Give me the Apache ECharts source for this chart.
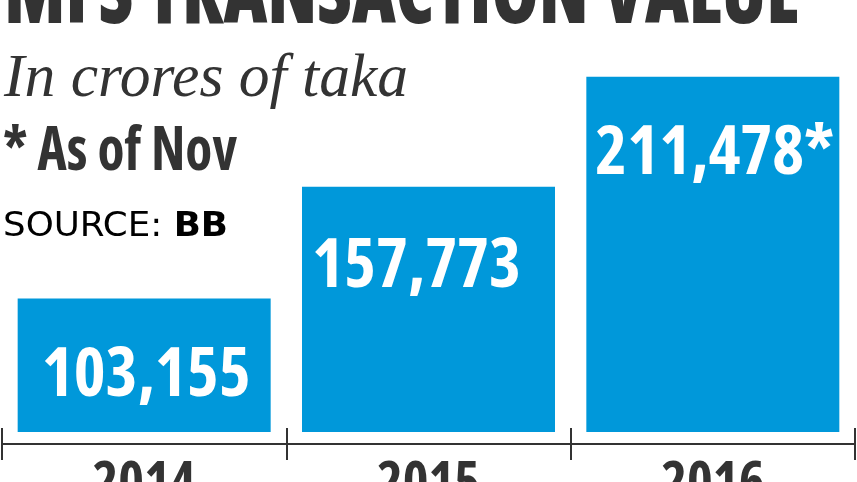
<!DOCTYPE html>
<html>
<head>
<meta charset="utf-8">
<script src="https://cdn.jsdelivr.net/npm/echarts@6/dist/echarts.min.js"></script>
<style>
html,body{margin:0;padding:0;background:#fff;}
#c{width:857px;height:482px;}
</style>
</head>
<body>
<div id="c"></div>
<script>
const years = ['2014', '2015', '2016'];
const values = [103155, 157773, 211478];
const notes = ['', '', '*'];
const titleText = 'MFS TRANSACTION VALUE';
const unitText = 'In crores of taka';
const noteText = '* As of Nov';
const sourceLabel = 'SOURCE: ';
const sourceName = 'BB';

const COND = '"Open Sans", "DejaVu Sans Condensed", sans-serif';
const DARK = '#333333';
const BLUE = '#0098da';
const labelShift = [[2, 0], [-12, 3], [2, 0]];

// measure text width to fit the header lines to the reference widths
const mctx = document.createElement('canvas').getContext('2d');
function measure(font, text) { mctx.font = font; return mctx.measureText(text).width; }

function headerText(font, size, text, x, baseline, targetW, midOff) {
  const w = measure(font, text);
  const sx = targetW / w;
  return {
    type: 'text', x: x, y: baseline - midOff * size, scaleX: sx, scaleY: 1,
    style: {text: text, font: font, fill: DARK, x: 0, y: 0, verticalAlign: 'middle', align: 'left', lineHeight: size}
  };
}

const titleFont = '800 condensed 90px "Open Sans", sans-serif';
const noteFont = 'bold condensed 61px "Open Sans", sans-serif';
const unitFont = 'italic 62px "Liberation Serif", serif';
const srcA = 'normal 33px "DejaVu Sans", sans-serif';
const srcB = 'bold 33px "DejaVu Sans", sans-serif';
const srcW = measure(srcA, sourceLabel) + measure(srcB, sourceName);
const srcScale = 225 / srcW;

const chart = echarts.init(document.getElementById('c'), null, {renderer: 'canvas'});
chart.setOption({
  animation: false,
  backgroundColor: '#ffffff',
  grid: {left: 2, right: 2, top: 0, bottom: 50, containLabel: false, outerBoundsMode: 'none'},
  xAxis: [{
    type: 'category',
    data: years,
    position: 'bottom',
    offset: 12,
    axisLine: {show: true, lineStyle: {color: DARK, width: 2}},
    axisTick: {show: true, length: 16, lineStyle: {color: DARK, width: 2}},
    axisLabel: {show: true, margin: 14, color: DARK, fontFamily: COND, fontWeight: 'bold condensed', fontSize: 55, lineHeight: 55},
    splitLine: {show: false}
  }, {
    type: 'category',
    data: years,
    position: 'bottom',
    offset: 12,
    axisLine: {show: false},
    axisTick: {show: true, inside: true, length: 16, lineStyle: {color: DARK, width: 2}},
    axisLabel: {show: false},
    splitLine: {show: false}
  }],
  yAxis: {type: 'value', min: 38000, max: 249000, show: false, splitLine: {show: false}},
  series: [{
    type: 'bar',
    xAxisIndex: 0,
    barWidth: 253,
    itemStyle: {color: BLUE},
    data: values.map((v, i) => ({value: v, label: {offset: labelShift[i]}})),
    label: {
      show: true,
      position: 'insideTop',
      distance: 44,
      color: '#ffffff',
      fontFamily: COND,
      fontWeight: 'bold condensed',
      fontSize: 68,
      lineHeight: 68,
      formatter: p => p.value.toLocaleString('en-US') + notes[p.dataIndex]
    }
  }],
  graphic: [
    headerText(titleFont, 90, titleText, 4, 32, 796, 0.388),
    headerText(unitFont, 62, unitText, 4, 101, 404, 0.3375),
    headerText(noteFont, 61, noteText, 3, 176, 234, 0.388),
    {
      type: 'text', x: 3, y: 239 - 0.346 * 33, scaleX: srcScale, scaleY: 1,
      style: {
        x: 0, y: 0, verticalAlign: 'middle', align: 'left',
        rich: {
          a: {fontFamily: '"DejaVu Sans", sans-serif', fontSize: 33, lineHeight: 33, color: DARK},
          b: {fontFamily: '"DejaVu Sans", sans-serif', fontSize: 33, lineHeight: 33, fontWeight: 'bold', color: DARK}
        },
        text: '{a|' + sourceLabel + '}{b|' + sourceName + '}'
      }
    }
  ]
});
</script>
</body>
</html>
